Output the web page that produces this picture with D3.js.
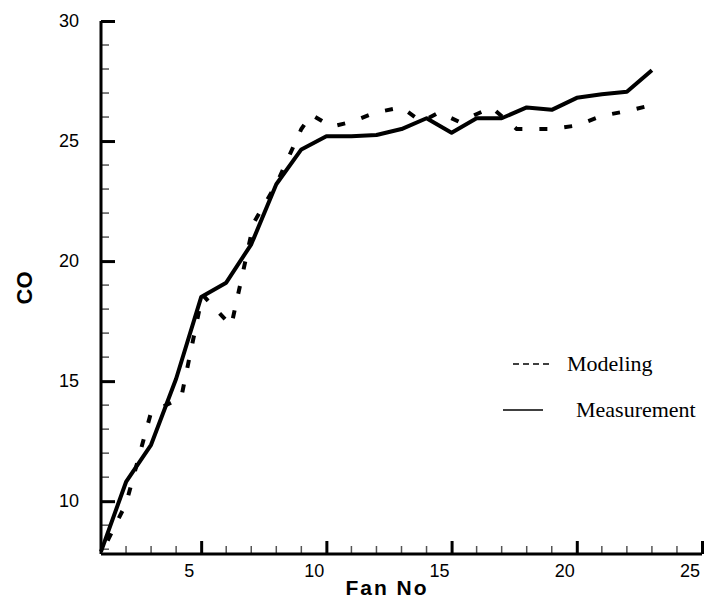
<!DOCTYPE html>
<html>
<head>
<meta charset="utf-8">
<script src="https://cdn.jsdelivr.net/npm/d3@7"></script>
<style>
  body { margin: 0; background: #fff; }
  svg { display: block; }
</style>
</head>
<body>
<div id="chart"></div>
<script>
'use strict';

// measurement series, one value per fan
var fanNo = [1, 2, 3, 4, 5, 6, 7, 8, 9, 10, 11, 12, 13, 14, 15, 16, 17, 18, 19, 20, 21, 22, 23];
var measurementCO = [7.9, 10.8, 12.35, 15.1, 18.5, 19.1, 20.7, 23.2, 24.65, 25.2, 25.2, 25.25, 25.5, 25.95,
    25.35, 25.95, 25.95, 26.4, 26.3, 26.8, 26.95, 27.05, 27.95];

// modeling series (vertices)
var modelFan = [1, 2, 3, 4.2, 5.05, 6.2, 7.1, 8, 9, 9.4, 10.2, 11, 12, 13, 13.8, 14.5, 15.3, 16.6, 17.6,
    19, 20, 21, 22, 22.8];
var modelCO = [7.8, 9.9, 13.7, 14.3, 18.6, 17.3, 21.6, 23.2, 25.5, 26.1, 25.6, 25.8, 26.2, 26.4, 25.8,
    26.2, 25.8, 26.4, 25.5, 25.5, 25.65, 26.05, 26.25, 26.45];

var xTicks = [5, 10, 15, 20, 25];
var yTicks = [10, 15, 20, 25, 30];
var legendNames = ['Modeling', 'Measurement'];

var width = 706, height = 601;

var svg = d3.select('#chart')
    .append('svg')
    .attr('width', width)
    .attr('height', height);

var x = d3.scaleLinear().domain([1, 25]).range([101, 702]);
var y = d3.scaleLinear().domain([7.8, 30]).range([554, 21]);

// minor ticks
var xMinor = d3.range(2, 25).filter(function(d) { return d % 5 !== 0; });
var yMinor = d3.range(8, 30).filter(function(d) { return d % 5 !== 0; });

svg.append('g')
    .selectAll('line')
    .data(xMinor)
    .enter()
    .append('line')
    .attr('x1', function(d) { return x(d); })
    .attr('x2', function(d) { return x(d); })
    .attr('y1', 554)
    .attr('y2', 546)
    .attr('stroke', '#555')
    .attr('stroke-width', 1.5);

svg.append('g')
    .selectAll('line')
    .data(yMinor)
    .enter()
    .append('line')
    .attr('x1', 101)
    .attr('x2', 109)
    .attr('y1', function(d) { return y(d); })
    .attr('y2', function(d) { return y(d); })
    .attr('stroke', '#555')
    .attr('stroke-width', 1.5);

// axes, ticks pointing inward
var xAxis = d3.axisTop(x).tickValues(xTicks).tickSize(13).tickFormat('');
var yAxis = d3.axisRight(y).tickValues(yTicks).tickSize(14).tickFormat('');

var gx = svg.append('g')
    .attr('transform', 'translate(0,554)')
    .call(xAxis);
var gy = svg.append('g')
    .attr('transform', 'translate(101,0)')
    .call(yAxis);

[gx, gy].forEach(function(g) {
    g.select('.domain').attr('stroke', '#000').attr('stroke-width', 3);
    g.selectAll('.tick line').attr('stroke', '#000').attr('stroke-width', 3);
});
gx.select('.domain').attr('d', 'M' + x(1) + ',0H' + x(25));
gy.select('.domain').attr('d', 'M0,' + y(7.8) + 'V' + y(30));

// tick labels
svg.append('g')
    .selectAll('text')
    .data(xTicks)
    .enter()
    .append('text')
    .attr('x', function(d) { return x(d) - 12; })
    .attr('y', 577)
    .attr('text-anchor', 'middle')
    .style('font-family', 'Liberation Sans, Arial, sans-serif')
    .style('font-size', '18px')
    .text(function(d) { return d; });

svg.append('g')
    .selectAll('text')
    .data(yTicks)
    .enter()
    .append('text')
    .attr('x', 79)
    .attr('y', function(d) { return y(d); })
    .attr('dy', '0.35em')
    .attr('text-anchor', 'end')
    .style('font-family', 'Liberation Sans, Arial, sans-serif')
    .style('font-size', '18px')
    .text(function(d) { return d; });

// axis titles
svg.append('text')
    .attr('x', 387)
    .attr('y', 595)
    .attr('text-anchor', 'middle')
    .style('font-family', 'Liberation Sans, Arial, sans-serif')
    .style('font-size', '21px')
    .style('font-weight', 'bold')
    .style('letter-spacing', '2px')
    .text('Fan No');

svg.append('text')
    .attr('transform', 'translate(32,288) rotate(-90)')
    .attr('text-anchor', 'middle')
    .style('font-family', 'Liberation Sans, Arial, sans-serif')
    .style('font-size', '22px')
    .style('font-weight', 'bold')
    .text('CO');

// lines
var modelLine = d3.line()
    .x(function(d, i) { return x(modelFan[i]); })
    .y(function(d) { return y(d); });

var measLine = d3.line()
    .x(function(d, i) { return x(fanNo[i]); })
    .y(function(d) { return y(d); });

svg.append('path')
    .datum(modelCO)
    .attr('d', modelLine)
    .attr('fill', 'none')
    .attr('stroke', '#000')
    .attr('stroke-width', 4)
    .attr('stroke-dasharray', '8,17')
    .attr('stroke-dashoffset', 10);

svg.append('path')
    .datum(measurementCO)
    .attr('d', measLine)
    .attr('fill', 'none')
    .attr('stroke', '#000')
    .attr('stroke-width', 4)
    .attr('stroke-linejoin', 'round');

// legend
var legend = svg.append('g');

legend.append('line')
    .attr('x1', 513).attr('x2', 550)
    .attr('y1', 364).attr('y2', 364)
    .attr('stroke', '#000')
    .attr('stroke-width', 1.5)
    .attr('stroke-dasharray', '6,4');

legend.append('line')
    .attr('x1', 503).attr('x2', 543)
    .attr('y1', 410).attr('y2', 410)
    .attr('stroke', '#000')
    .attr('stroke-width', 1.5);

legend.selectAll('text')
    .data(legendNames)
    .enter()
    .append('text')
    .attr('x', function(d, i) { return i === 0 ? 567 : 576; })
    .attr('y', function(d, i) { return i === 0 ? 371 : 417; })
    .style('font-family', 'Liberation Serif, Times New Roman, serif')
    .style('font-size', '22px')
    .text(function(d) { return d; });
</script>
</body>
</html>
